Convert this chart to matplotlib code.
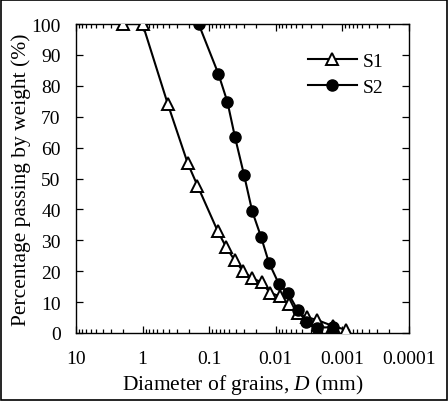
import matplotlib
matplotlib.use("Agg")
import matplotlib.pyplot as plt
from matplotlib.patches import Rectangle
from matplotlib.ticker import LogLocator, FixedLocator, NullFormatter

plt.rcParams['font.family'] = ['Liberation Serif', 'DejaVu Serif']
plt.rcParams['mathtext.fontset'] = 'custom'
plt.rcParams['mathtext.it'] = 'Liberation Serif:italic'
plt.rcParams['mathtext.rm'] = 'Liberation Serif'

s1_d = [2.0, 1.0, 0.42, 0.21, 0.15, 0.075, 0.056, 0.0414, 0.031, 0.0225, 0.0163,
        0.0122, 0.0087, 0.0063, 0.0046, 0.0034, 0.0024, 0.0014, 0.00088]
s1_p = [100, 100, 74.2, 54.9, 47.7, 33.1, 27.9, 23.5, 20.0, 17.7, 16.4,
        13.0, 11.9, 9.3, 6.4, 5.1, 4.2, 2.3, 1.0]
s2_d = [0.144, 0.0726, 0.0533, 0.0409, 0.030, 0.0226, 0.0167, 0.0127, 0.009,
        0.0065, 0.0047, 0.0035, 0.0024, 0.0014]
s2_p = [100, 83.8, 74.8, 63.3, 51.2, 39.4, 31.2, 22.8, 15.9, 12.8, 7.4, 3.6, 1.7, 1.9]

x_ticks = [10, 1, 0.1, 0.01, 0.001, 0.0001]
x_labels = ['10', '1', '0.1', '0.01', '0.001', '0.0001']
y_ticks = [0, 10, 20, 30, 40, 50, 60, 70, 80, 90, 100]

fig = plt.figure(figsize=(4.48, 4.02), dpi=100)
ax = fig.add_axes([76/448, 1-334/402, (409-76)/448, (334-25)/402])

ax.plot(s1_d, s1_p, color='black', lw=1.5, marker='^', markersize=8.5,
        markerfacecolor='white', markeredgecolor='black', markeredgewidth=1.4, label='S1', zorder=3)
ax.plot(s2_d, s2_p, color='black', lw=1.5, marker='o', markersize=8,
        markerfacecolor='black', markeredgecolor='black', label='S2', zorder=3)

ax.set_xscale('log')
ax.set_xlim(10, 0.0001)
ax.set_ylim(0, 100)
ax.xaxis.set_major_locator(FixedLocator(x_ticks))
ax.set_xticklabels(x_labels)
ax.xaxis.set_minor_locator(LogLocator(base=10, subs=range(2, 10), numticks=20))
ax.xaxis.set_minor_formatter(NullFormatter())
ax.set_yticks(y_ticks)

ax.tick_params(axis='both', which='both', direction='in', top=True, right=True,
               labelsize=14, width=0.9)
ax.tick_params(axis='both', which='major', length=5)
ax.tick_params(axis='y', which='major', pad=11)
ax.tick_params(axis='x', which='major', pad=12)
ax.tick_params(axis='x', which='minor', length=3)
for s in ax.spines.values():
    s.set_linewidth(1.0)

ax.set_xlabel('Diameter of grains, $\\mathit{D}$ (mm)', fontsize=15.5, labelpad=4)
ax.set_ylabel('Percentage passing by weight (%)', fontsize=15.5, labelpad=0)

ax.legend(loc='upper right', frameon=False, fontsize=14, handlelength=2.5,
          bbox_to_anchor=(0.975, 0.965), handletextpad=0.3, labelspacing=0.45)

fig.patches.append(Rectangle((0.002, 0.002), 0.996, 0.996, transform=fig.transFigure,
                             fill=False, edgecolor='black', lw=1.2))

fig.savefig('out.png', dpi=100)
